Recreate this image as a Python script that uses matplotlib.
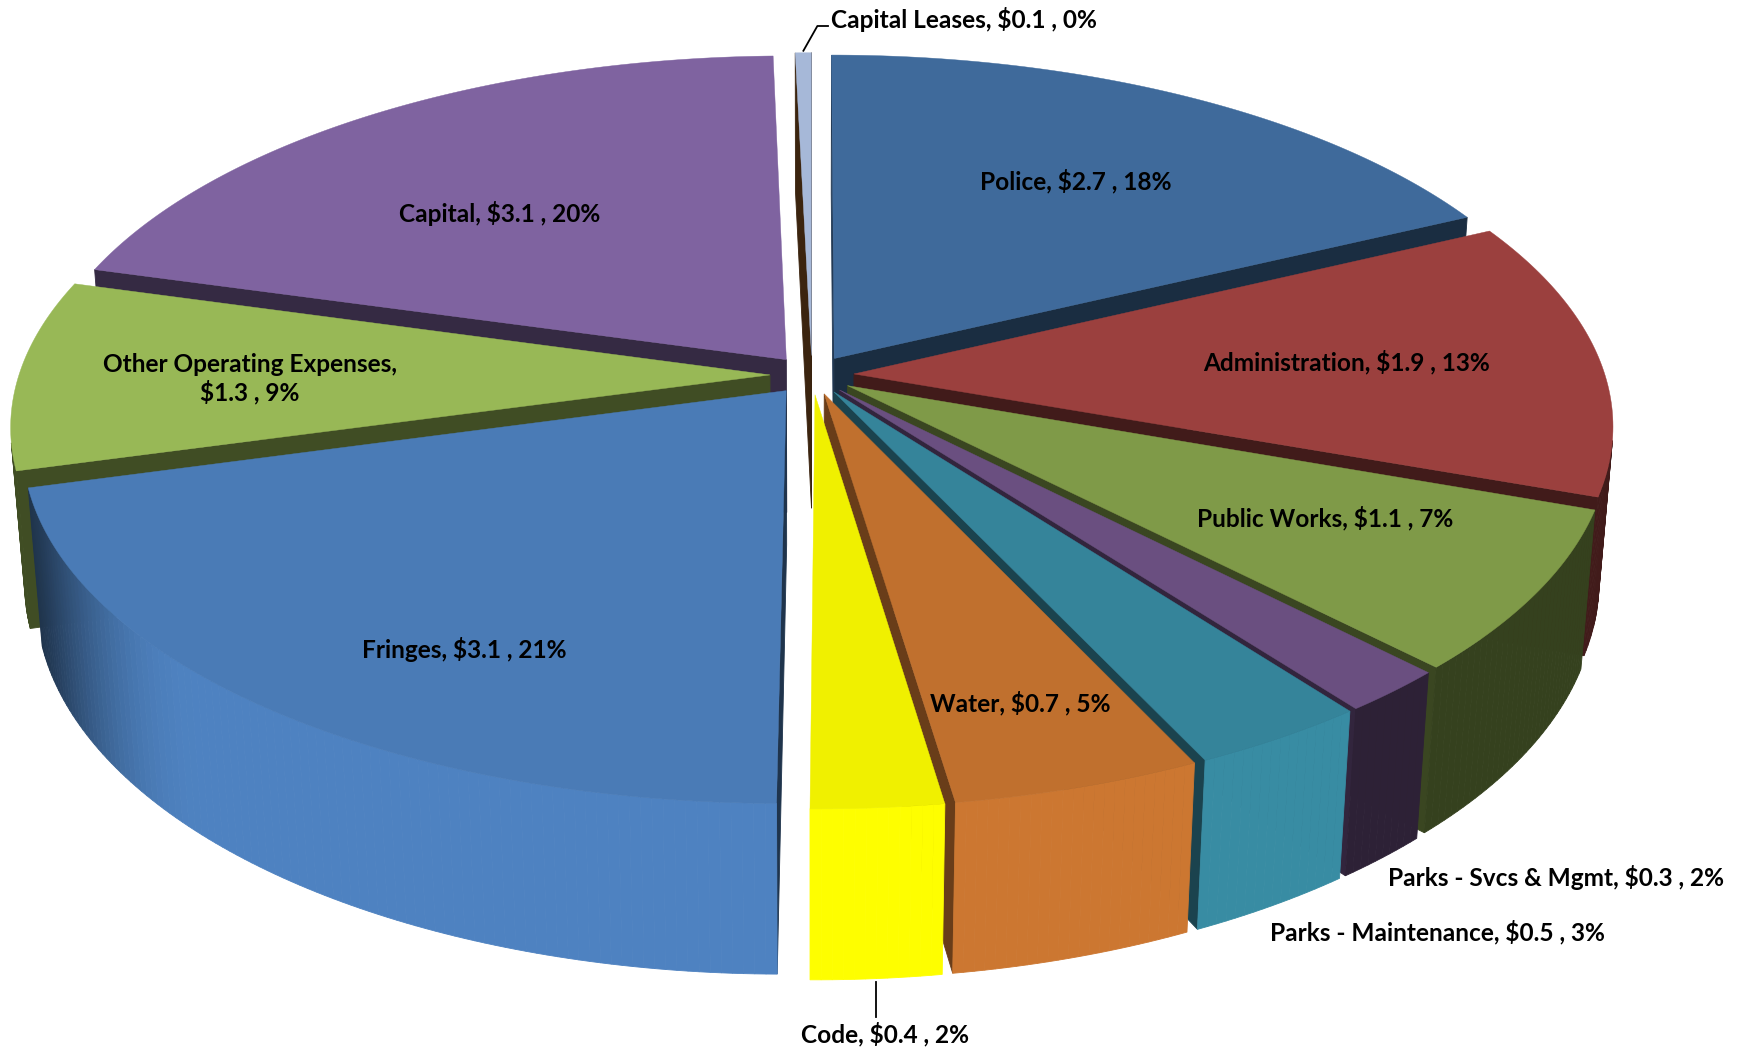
import numpy as np
import matplotlib
matplotlib.use("Agg")
import matplotlib.pyplot as plt
from matplotlib.patches import Polygon
from matplotlib.colors import to_rgb

# ---------------- data ----------------
categories = ["Police", "Administration", "Public Works", "Parks - Svcs & Mgmt",
              "Parks - Maintenance", "Water", "Code", "Fringes",
              "Other Operating Expenses", "Capital", "Capital Leases"]
values = [2.70, 1.90, 1.10, 0.30, 0.50, 0.70, 0.37, 3.12, 1.30, 3.06, 0.06]

# ---------------- styles ----------------
top_colors = ["#3f6a9b", "#9b403e", "#7f9a48", "#6a4f80", "#35849a", "#c0702e",
              "#f0f000", "#4a7bb6", "#98b856", "#7f63a0", "#a6b8d8"]
side_colors = top_colors[:-1] + ["#6b421c"]
# label centres in pixels (layout)
label_pos = [(1076, 181), (1347, 362), (1325, 518), (1556, 878), (1438, 932),
             (1020, 703), (885, 1034), (464, 649), (250, 379), (500, 213), (831, 19)]
label_ha = ["center"] * 10 + ["left"]

W, H = 1743, 1051
fig = plt.figure(figsize=(W / 100, H / 100), dpi=100)
ax = fig.add_axes([0, 0, 1, 1])
ax.set_xlim(0, W)
ax.set_ylim(H, 0)
ax.axis("off")

# ---------------- 3-D projection ----------------
elev = np.radians(27.8)
sn, cs = np.sin(elev), np.cos(elev)
Dist = 6.32
S_ = 751.0
foc = S_ * Dist
cx, cy = 812.0, 375.0
thick = 0.235
explode = 0.056
cam = np.array([0.0, -Dist * cs, Dist * sn])


def proj(p):
    p = np.atleast_2d(p)
    depth = p[:, 1] * cs - p[:, 2] * sn + Dist
    X = cx + foc * p[:, 0] / depth
    Y = cy - foc * (p[:, 1] * sn + p[:, 2] * cs) / depth
    return np.column_stack([X, Y])


def shade(col, fac):
    r = np.clip(np.array(to_rgb(col)) * fac, 0, 1)
    return tuple(r)


def wall_factor(th):
    # lighting of the curved outer wall, th in degrees (clockwise from back)
    if th < 142.95:
        return 0.42
    if th <= 224:
        return 1.06
    t = np.clip((th - 224.0) / 32.0, 0, 1)
    return 1.06 - (1.06 - 0.42) * (0.5 - 0.5 * np.cos(np.pi * t))


total = sum(values)
fracs = np.array(values) / total
bounds = np.concatenate([[0], np.cumsum(fracs) * 360.0])

side_polys = []
top_polys = []
geo = []
for i, (v, col) in enumerate(zip(values, top_colors)):
    a0, a1 = bounds[i], bounds[i + 1]
    mid = np.radians((a0 + a1) / 2)
    off = explode * np.array([np.sin(mid), np.cos(mid), 0.0])
    n = max(3, int((a1 - a0) / 0.75) + 2)
    th = np.radians(np.linspace(a0, a1, n))
    rim_top = np.column_stack([np.sin(th), np.cos(th), np.zeros(n)]) + off
    rim_bot = rim_top - np.array([0, 0, thick])
    apex_t = off.copy()
    apex_b = off - np.array([0, 0, thick])
    geo.append((a0, a1, mid, off))
    # top face
    top = np.vstack([apex_t, rim_top])
    top_polys.append((proj(top), col))
    # outer wall quads
    for j in range(n - 1):
        quad = np.array([rim_top[j], rim_top[j + 1], rim_bot[j + 1], rim_bot[j]])
        tm = (th[j] + th[j + 1]) / 2
        nrm = np.array([np.sin(tm), np.cos(tm), 0])
        cen = quad.mean(axis=0)
        if np.dot(nrm, cam - cen) <= 0:
            continue
        fc = shade(side_colors[i], wall_factor(np.degrees(tm)))
        side_polys.append((np.linalg.norm(cam - cen), proj(quad), fc))
    # radial faces
    for ang, sign in ((a0, -1), (a1, 1)):
        ar = np.radians(ang)
        nrm = sign * np.array([np.cos(ar), -np.sin(ar), 0])
        outer_t = np.array([np.sin(ar), np.cos(ar), 0]) + off
        outer_b = outer_t - np.array([0, 0, thick])
        quad = np.array([apex_t, outer_t, outer_b, apex_b])
        cen = quad.mean(axis=0)
        if np.dot(nrm, cam - cen) <= 0:
            continue
        fac = 0.42 + 0.13 * max(0.0, -nrm[0]) ** 4
        side_polys.append((np.linalg.norm(cam - cen), proj(quad),
                           shade(side_colors[i], fac)))

side_polys.sort(key=lambda t: -t[0])
for _, pts, fc in side_polys:
    ax.add_patch(Polygon(pts, closed=True, facecolor=fc, edgecolor=fc,
                         linewidth=0.6, antialiased=True))
for pts, fc in top_polys:
    ax.add_patch(Polygon(pts, closed=True, facecolor=fc, edgecolor=fc,
                         linewidth=0.3, antialiased=True))

# ---------------- labels ----------------
font = dict(family=["Lato", "DejaVu Sans"], fontweight="bold", fontsize=17.6,
            color="black")
for i, name in enumerate(categories):
    v = values[i]
    pct = 100 * v / total
    if name == "Other Operating Expenses":
        txt = f"{name},\n${v:.1f} , {pct:.0f}%"
    else:
        txt = f"{name}, ${v:.1f} , {pct:.0f}%"
    x, y = label_pos[i]
    ax.text(x, y, txt, ha=label_ha[i], va="center", multialignment="center",
            linespacing=1.2, **font)

# leader line for Code (below the wall)
a0, a1, mid, off = geo[6]
p_bot = proj(np.array([np.sin(mid), np.cos(mid), -thick]) + off)[0]
ax.plot([p_bot[0], p_bot[0]], [p_bot[1] + 3, label_pos[6][1] - 17],
        color="black", lw=1.3)
# leader line for Capital Leases
a0, a1, mid, off = geo[10]
p_top = proj(np.array([np.sin(mid), np.cos(mid), 0]) + off)[0]
lx, ly = label_pos[10]
ax.plot([p_top[0], p_top[0] + 14, lx - 3], [p_top[1] - 2, ly + 7, ly + 7],
        color="black", lw=1.3)

fig.savefig("out.png", dpi=100, facecolor="white")
